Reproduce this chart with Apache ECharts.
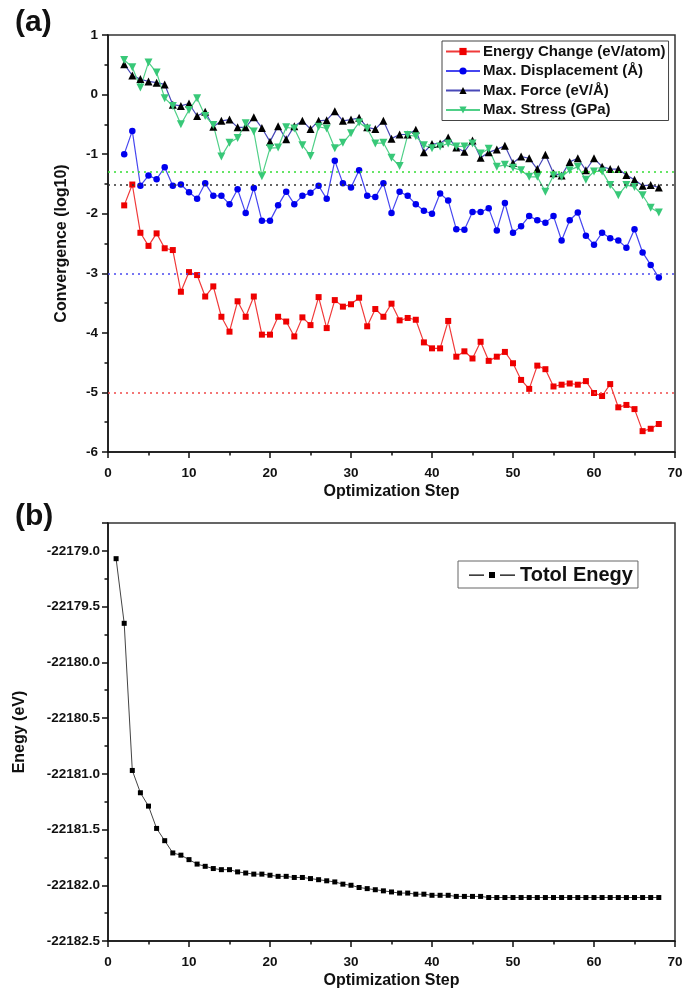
<!DOCTYPE html>
<html>
<head>
<meta charset="utf-8">
<script src="https://cdn.jsdelivr.net/npm/echarts@6/dist/echarts.min.js"></script>
<style>
html,body{margin:0;padding:0;background:#fff;}
#chart{width:687px;height:992px;}
</style>
</head>
<body>
<div id="chart"></div>
<script>
// ---- data ----
const stepsA = [2,3,4,5,6,7,8,9,10,11,12,13,14,15,16,17,18,19,20,21,22,23,24,25,26,27,28,29,30,31,32,33,34,35,36,37,38,39,40,41,42,43,44,45,46,47,48,49,50,51,52,53,54,55,56,57,58,59,60,61,62,63,64,65,66,67,68];
const energyChange = [-1.86,-1.51,-2.32,-2.54,-2.33,-2.58,-2.61,-3.31,-2.98,-3.03,-3.39,-3.22,-3.73,-3.98,-3.47,-3.73,-3.39,-4.03,-4.03,-3.73,-3.81,-4.06,-3.74,-3.87,-3.40,-3.92,-3.45,-3.56,-3.52,-3.41,-3.89,-3.60,-3.73,-3.51,-3.79,-3.75,-3.78,-4.16,-4.26,-4.26,-3.80,-4.40,-4.31,-4.43,-4.15,-4.47,-4.40,-4.32,-4.51,-4.79,-4.94,-4.55,-4.61,-4.90,-4.87,-4.85,-4.87,-4.81,-5.01,-5.06,-4.86,-5.25,-5.21,-5.28,-5.65,-5.61,-5.53];
const maxDisplacement = [-1.00,-0.61,-1.53,-1.36,-1.42,-1.22,-1.53,-1.51,-1.64,-1.75,-1.49,-1.70,-1.70,-1.84,-1.59,-1.99,-1.57,-2.12,-2.12,-1.86,-1.63,-1.84,-1.70,-1.65,-1.53,-1.75,-1.11,-1.49,-1.56,-1.27,-1.70,-1.72,-1.49,-1.99,-1.63,-1.70,-1.84,-1.95,-2.00,-1.66,-1.78,-2.26,-2.27,-1.97,-1.97,-1.91,-2.28,-1.82,-2.32,-2.21,-2.04,-2.11,-2.15,-2.04,-2.45,-2.11,-1.98,-2.37,-2.52,-2.32,-2.41,-2.45,-2.57,-2.26,-2.65,-2.86,-3.07];
const maxForce = [0.51,0.32,0.26,0.22,0.20,0.17,-0.17,-0.19,-0.15,-0.36,-0.29,-0.54,-0.44,-0.42,-0.55,-0.55,-0.38,-0.56,-0.79,-0.53,-0.75,-0.53,-0.44,-0.58,-0.44,-0.43,-0.28,-0.44,-0.42,-0.39,-0.55,-0.58,-0.44,-0.74,-0.67,-0.67,-0.59,-0.97,-0.83,-0.82,-0.72,-0.89,-0.96,-0.77,-1.06,-0.97,-0.92,-0.86,-1.15,-1.04,-1.07,-1.25,-1.01,-1.32,-1.36,-1.13,-1.07,-1.27,-1.07,-1.21,-1.25,-1.25,-1.35,-1.43,-1.53,-1.52,-1.56];
const maxStress = [0.58,0.46,0.12,0.54,0.37,-0.06,-0.19,-0.50,-0.26,-0.06,-0.36,-0.51,-1.04,-0.81,-0.73,-0.48,-0.62,-1.37,-0.90,-0.89,-0.55,-0.57,-0.85,-1.03,-0.54,-0.57,-0.90,-0.81,-0.65,-0.47,-0.57,-0.82,-0.81,-1.06,-1.20,-0.68,-0.70,-0.85,-0.90,-0.87,-0.82,-0.87,-0.87,-0.82,-0.99,-0.91,-1.21,-1.18,-1.23,-1.27,-1.38,-1.38,-1.63,-1.36,-1.38,-1.27,-1.21,-1.43,-1.29,-1.29,-1.52,-1.69,-1.52,-1.55,-1.69,-1.90,-1.98];
// convergence thresholds (log10): energy, displacement, force, stress
const thresholds = [-5, -3, -1.523, -1.301];

const stepsB = [1,2,3,4,5,6,7,8,9,10,11,12,13,14,15,16,17,18,19,20,21,22,23,24,25,26,27,28,29,30,31,32,33,34,35,36,37,38,39,40,41,42,43,44,45,46,47,48,49,50,51,52,53,54,55,56,57,58,59,60,61,62,63,64,65,66,67,68];
const totalEnergy = [-22179.07,-22179.65,-22180.97,-22181.17,-22181.29,-22181.49,-22181.60,-22181.71,-22181.73,-22181.77,-22181.81,-22181.83,-22181.85,-22181.86,-22181.86,-22181.88,-22181.89,-22181.90,-22181.90,-22181.91,-22181.92,-22181.92,-22181.93,-22181.93,-22181.94,-22181.95,-22181.96,-22181.97,-22181.99,-22182.00,-22182.02,-22182.03,-22182.04,-22182.05,-22182.06,-22182.07,-22182.07,-22182.08,-22182.08,-22182.09,-22182.09,-22182.09,-22182.10,-22182.10,-22182.10,-22182.10,-22182.11,-22182.11,-22182.11,-22182.11,-22182.11,-22182.11,-22182.11,-22182.11,-22182.11,-22182.11,-22182.11,-22182.11,-22182.11,-22182.11,-22182.11,-22182.11,-22182.11,-22182.11,-22182.11,-22182.11,-22182.11,-22182.11];

const namesA = ['Energy Change (eV/atom)', 'Max. Displacement (\u00C5)', 'Max. Force (eV/\u00C5)', 'Max. Stress (GPa)'];
const legendB = ['Totol Enegy'];

// ---- chart ----
const FONT = "'Liberation Sans', Arial, sans-serif";
const zip = (xs, ys) => xs.map((x, i) => [x, ys[i]]);

const axisCommon = {
  axisLine: {show: true, onZero: false, lineStyle: {color: '#111', width: 1.5}},
  axisTick: {show: true, inside: false, length: 6, lineStyle: {color: '#111', width: 1.5}},
  minorTick: {show: true, splitNumber: 2, length: 3.5, lineStyle: {color: '#111', width: 1.5}},
  splitLine: {show: false},
  minorSplitLine: {show: false},
  nameTextStyle: {fontFamily: FONT, fontWeight: 'bold', fontSize: 16, color: '#111'}
};
const labelStyle = {fontFamily: FONT, fontWeight: 'bold', fontSize: 13.5, color: '#111'};

function thresholdLine(value, color) {
  return {
    silent: true, symbol: 'none', label: {show: false},
    lineStyle: {type: [2, 4], color: color, width: 1.5},
    data: [{yAxis: value}]
  };
}

const option = {
  animation: false,
  backgroundColor: '#fff',
  title: [
    {text: '(a)', left: 10, top: 3, textStyle: {fontFamily: FONT, fontWeight: 'bold', fontSize: 30, color: '#111'}},
    {text: '(b)', left: 10, top: 497, textStyle: {fontFamily: FONT, fontWeight: 'bold', fontSize: 30, color: '#111'}}
  ],
  grid: [
    {left: 108, top: 35, width: 567, height: 417, show: true, borderColor: '#333', borderWidth: 1.5, backgroundColor: 'transparent'},
    {left: 108, top: 523, width: 567, height: 418, show: true, borderColor: '#333', borderWidth: 1.5, backgroundColor: 'transparent'}
  ],
  legend: [
    {
      data: namesA, orient: 'vertical', left: 442, top: 41,
      itemWidth: 34, itemHeight: 9, itemGap: 2.5,
      padding: [2, 3, 2, 3],
      borderColor: '#444', borderWidth: 1,
      textStyle: {fontFamily: FONT, fontWeight: 'bold', fontSize: 15, lineHeight: 17, color: '#111', padding: [0, 0, 0, -2]}
    },
    {
      data: [{name: legendB[0], icon: 'path://M0,3h15v1.2h-15z M20,0.5h6v6h-6z M31,3h15v1.2h-15z'}],
      orient: 'vertical', left: 458, top: 561,
      itemWidth: 46, itemHeight: 7,
      padding: [3, 5, 2, 11],
      borderColor: '#666', borderWidth: 1,
      textStyle: {fontFamily: FONT, fontWeight: 'bold', fontSize: 20, lineHeight: 22, color: '#111'}
    }
  ],
  xAxis: [
    Object.assign({}, axisCommon, {
      type: 'value', gridIndex: 0, min: 0, max: 70, interval: 10,
      name: 'Optimization Step', nameLocation: 'middle', nameGap: 32,
      axisLabel: Object.assign({margin: 14}, labelStyle)
    }),
    Object.assign({}, axisCommon, {
      type: 'value', gridIndex: 1, min: 0, max: 70, interval: 10,
      name: 'Optimization Step', nameLocation: 'middle', nameGap: 32,
      axisLabel: Object.assign({margin: 14}, labelStyle)
    })
  ],
  yAxis: [
    Object.assign({}, axisCommon, {
      type: 'value', gridIndex: 0, min: -6, max: 1, interval: 1,
      name: 'Convergence (log10)', nameLocation: 'middle', nameGap: 38, nameRotate: 90,
      axisLabel: Object.assign({margin: 10}, labelStyle)
    }),
    Object.assign({}, axisCommon, {
      type: 'value', gridIndex: 1, min: -22182.5, max: -22178.75, interval: 0.5,
      name: 'Enegy (eV)', nameLocation: 'middle', nameGap: 80, nameRotate: 90,
      axisLabel: Object.assign({margin: 8, showMaxLabel: false, formatter: v => v.toFixed(1)}, labelStyle, {fontSize: 13.5})
    })
  ],
  series: [
    {
      name: namesA[0], type: 'line', xAxisIndex: 0, yAxisIndex: 0,
      data: zip(stepsA, energyChange),
      symbol: 'rect', symbolSize: 6,
      itemStyle: {color: '#ee0000'}, lineStyle: {color: '#f03a3a', width: 1.2},
      markLine: thresholdLine(thresholds[0], '#f04848')
    },
    {
      name: namesA[1], type: 'line', xAxisIndex: 0, yAxisIndex: 0,
      data: zip(stepsA, maxDisplacement),
      symbol: 'circle', symbolSize: 6.5,
      itemStyle: {color: '#0000ee'}, lineStyle: {color: '#4646f0', width: 1.2},
      markLine: thresholdLine(thresholds[1], '#4848f0')
    },
    {
      name: namesA[2], type: 'line', xAxisIndex: 0, yAxisIndex: 0,
      data: zip(stepsA, maxForce),
      symbol: 'triangle', symbolSize: 8,
      itemStyle: {color: '#000000'}, lineStyle: {color: '#4848b8', width: 1.2},
      markLine: thresholdLine(thresholds[2], '#333333')
    },
    {
      name: namesA[3], type: 'line', xAxisIndex: 0, yAxisIndex: 0,
      data: zip(stepsA, maxStress),
      symbol: 'triangle', symbolRotate: 180, symbolSize: 8,
      itemStyle: {color: '#38c878'}, lineStyle: {color: '#50d088', width: 1.2},
      markLine: thresholdLine(thresholds[3], '#33dd33')
    },
    {
      name: legendB[0], type: 'line', xAxisIndex: 1, yAxisIndex: 1,
      data: zip(stepsB, totalEnergy),
      symbol: 'rect', symbolSize: 5,
      itemStyle: {color: '#000'}, lineStyle: {color: '#444', width: 1}
    }
  ]
};

const chart = echarts.init(document.getElementById('chart'), null, {renderer: 'canvas'});
chart.setOption(option);
</script>
</body>
</html>
